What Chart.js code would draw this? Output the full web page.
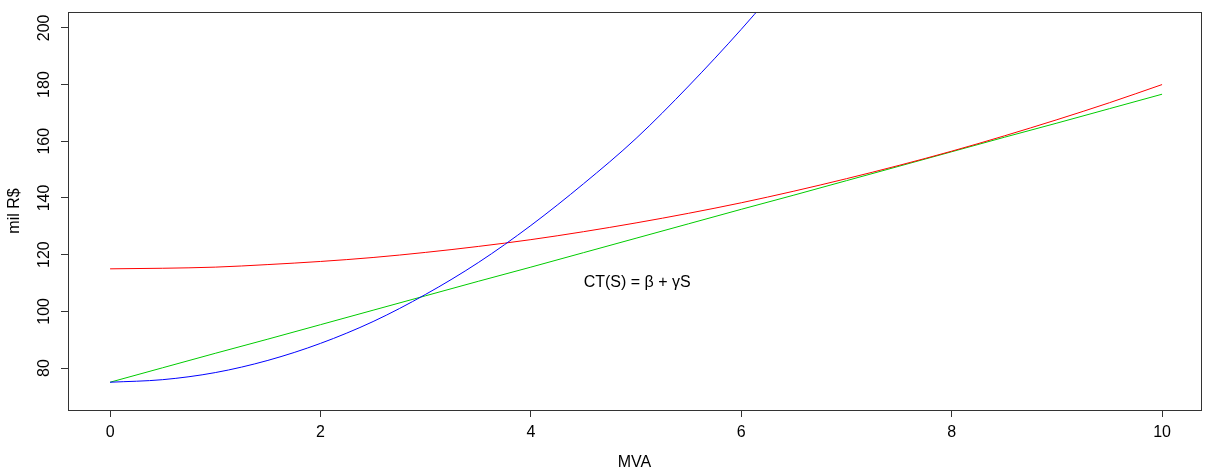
<!DOCTYPE html>
<html>
<head>
<meta charset="utf-8">
<script src="https://cdn.jsdelivr.net/npm/chart.js@4/dist/chart.umd.min.js"></script>
<style>
  body { margin: 0; background: #fff; }
</style>
</head>
<body>
<canvas id="chart" width="1205" height="473"></canvas>
<script>
const mva = [0, 0.5, 1, 1.5, 2, 2.5, 3, 3.5, 4, 4.5, 5, 5.5, 6, 6.5, 7, 7.5, 8, 8.5, 9, 9.5, 10];
// blue curve (leaves the plot at the top, so only up to 6.5)
const blueCost = [75, 75.9, 78.4, 82.7, 88.7, 96.4, 106, 117.2, 130.3, 145, 161, 179.5, 199.5, 221];
const redCost = [115, 115.2, 115.6, 116.5, 117.6, 119, 120.8, 122.9, 125.3, 128.1, 131.2, 134.6, 138.3, 142.4, 146.8, 151.5, 156.5, 161.9, 167.6, 173.6, 180];
const greenCost = [75, 80.1, 85.2, 90.2, 95.3, 100.4, 105.5, 110.6, 115.6, 120.7, 125.8, 130.9, 136, 141, 146.1, 151.2, 156.3, 161.4, 166.4, 171.5, 176.6];
const xTicks = [0, 2, 4, 6, 8, 10];
const yTicks = [80, 100, 120, 140, 160, 180, 200];
const formulaText = "CT(S) = β + γS";
const formulaAt = { x: 5.01, y: 110 };

Chart.defaults.font.family = "'Liberation Sans', Arial, sans-serif";
Chart.defaults.font.size = 16;
Chart.defaults.color = "#000";

function toPoints(ys) {
    return ys.map((y, i) => ({ x: mva[i], y: y }));
}

const axisColor = "#333";

const rPlotExtras = {
    id: "rPlotExtras",
    afterDraw(chart) {
        const ctx = chart.ctx;
        const area = chart.chartArea;
        const xs = chart.scales.x;
        const ys = chart.scales.y;

        // box around the plot
        ctx.save();
        ctx.strokeStyle = axisColor;
        ctx.lineWidth = 1;
        ctx.strokeRect(Math.round(area.left) + 0.5, Math.round(area.top) + 0.5,
            Math.round(area.right - area.left), Math.round(area.bottom - area.top));

        // y tick labels, rotated like R does
        ctx.fillStyle = "#000";
        ctx.font = "16px 'Liberation Sans', Arial, sans-serif";
        ctx.textAlign = "center";
        ctx.textBaseline = "middle";
        ys.ticks.forEach(t => {
            const py = ys.getPixelForValue(t.value);
            ctx.save();
            ctx.translate(45, py);
            ctx.rotate(-Math.PI / 2);
            ctx.fillText(String(t.value), 0, 0);
            ctx.restore();
        });

        // formula label inside the plot
        ctx.fillText(formulaText, xs.getPixelForValue(formulaAt.x), ys.getPixelForValue(formulaAt.y));
        ctx.restore();
    }
};

const chart = new Chart(document.getElementById("chart"), {
    type: "line",
    data: {
        datasets: [
            {
                data: toPoints(blueCost),
                borderColor: "#0000ff",
                borderWidth: 1,
                pointRadius: 0,
                cubicInterpolationMode: "monotone"
            },
            {
                data: toPoints(redCost),
                borderColor: "#ff0000",
                borderWidth: 1,
                pointRadius: 0,
                cubicInterpolationMode: "monotone"
            },
            {
                data: toPoints(greenCost),
                borderColor: "#00cc00",
                borderWidth: 1,
                pointRadius: 0,
                tension: 0
            }
        ]
    },
    options: {
        responsive: false,
        animation: false,
        layout: { padding: { top: 12, right: 4, left: 0, bottom: 0 } },
        plugins: {
            legend: { display: false },
            tooltip: { enabled: false }
        },
        scales: {
            x: {
                type: "linear",
                min: -0.4,
                max: 10.37,
                afterFit: scale => { scale.height = 63; },
                afterBuildTicks: scale => { scale.ticks = xTicks.map(v => ({ value: v })); },
                ticks: { padding: 6, color: "#000" },
                grid: { drawOnChartArea: false, drawTicks: true, tickLength: 7, color: axisColor },
                border: { color: axisColor },
                title: { display: true, text: "MVA", padding: { top: 0, bottom: 1 }, color: "#000" }
            },
            y: {
                min: 65.2,
                max: 205.6,
                afterFit: scale => { scale.width = 68; },
                afterBuildTicks: scale => { scale.ticks = yTicks.map(v => ({ value: v })); },
                ticks: { display: false },
                grid: { drawOnChartArea: false, drawTicks: true, tickLength: 7, color: axisColor },
                border: { color: axisColor },
                title: { display: true, text: "mil R$", padding: { top: 5, bottom: 0 }, color: "#000" }
            }
        }
    },
    plugins: [rPlotExtras]
});
</script>
</body>
</html>
